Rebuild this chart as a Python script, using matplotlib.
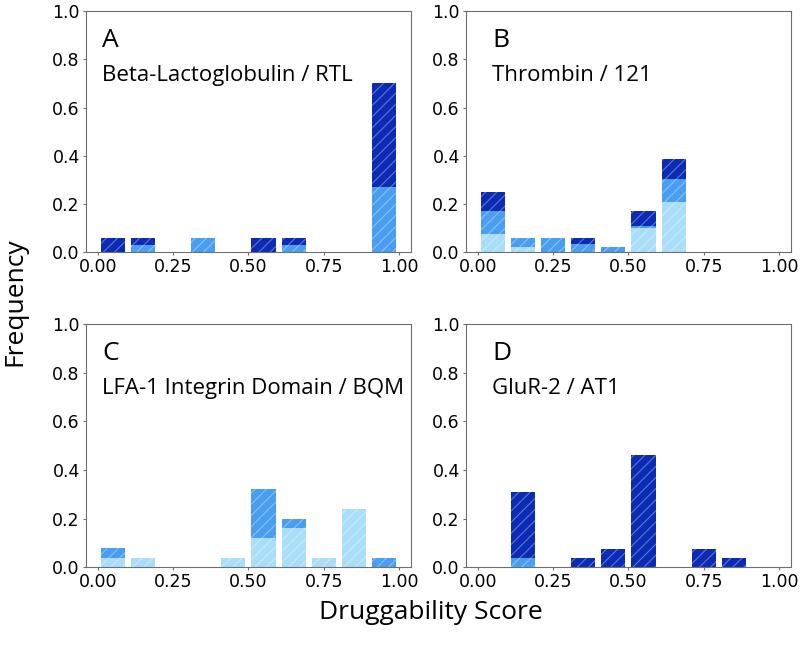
import numpy as np
import matplotlib
matplotlib.use("Agg")
import matplotlib.pyplot as plt

matplotlib.rcParams.update({'font.size': 12, 'hatch.linewidth': 0.8})

bin_edges = np.arange(0, 1.01, 0.1)

# frequencies per 0.1-wide bin, stacked bottom (light) -> top (dark)
a_light = [0, 0, 0, 0, 0, 0, 0, 0, 0, 0]
a_medium = [0, 0.03, 0, 0.06, 0, 0, 0.03, 0, 0, 0.27]
a_dark = [0.06, 0.03, 0, 0, 0, 0.06, 0.03, 0, 0, 0.43]

b_light = [0.075, 0.02, 0, 0, 0, 0.10, 0.21, 0, 0, 0]
b_medium = [0.095, 0.04, 0.06, 0.035, 0.02, 0.01, 0.095, 0, 0, 0]
b_dark = [0.08, 0, 0, 0.025, 0, 0.06, 0.08, 0, 0, 0]

c_light = [0.04, 0.04, 0, 0, 0.04, 0.12, 0.16, 0.04, 0.24, 0]
c_medium = [0.04, 0, 0, 0, 0, 0.20, 0.04, 0, 0, 0.04]
c_dark = [0, 0, 0, 0, 0, 0, 0, 0, 0, 0]

d_light = [0, 0, 0, 0, 0, 0, 0, 0, 0, 0]
d_medium = [0, 0.038, 0, 0, 0, 0, 0, 0, 0, 0]
d_dark = [0, 0.27, 0, 0.038, 0.077, 0.46, 0, 0.077, 0.038, 0]

panel_letters = ["A", "B", "C", "D"]
panel_titles = ["Beta-Lactoglobulin / RTL", "Thrombin / 121",
                "LFA-1 Integrin Domain / BQM", "GluR-2 / AT1"]
panel_data = [(a_light, a_medium, a_dark), (b_light, b_medium, b_dark),
              (c_light, c_medium, c_dark), (d_light, d_medium, d_dark)]

colors = ["#a9ddf8", "#4a9ef2", "#0b2bb5"]
label_font = "Open Sans"

fig = plt.figure(figsize=(8, 6.55), dpi=100)

# axes boxes [left, bottom, width, height] in figure fractions
boxes = [[0.1075, 0.615, 0.406, 0.368], [0.5825, 0.615, 0.406, 0.368],
         [0.1075, 0.134, 0.406, 0.371], [0.5825, 0.134, 0.406, 0.371]]
text_x = [0.05, 0.08, 0.05, 0.08]

centers = (bin_edges[:-1] + bin_edges[1:]) / 2

for i in range(4):
    ax = fig.add_axes(boxes[i])
    bottom = np.zeros(len(centers))
    for series, col in zip(panel_data[i], colors):
        h = np.array(series)
        ax.bar(centers, h, width=0.08, bottom=bottom, color=col,
               edgecolor=(1, 1, 1, 0.35), linewidth=0, hatch="///")
        bottom = bottom + h
    ax.set_ylim(0, 1.0)
    ax.set_yticks([0, 0.2, 0.4, 0.6, 0.8, 1.0])
    ax.set_xticks([0, 0.25, 0.5, 0.75, 1.0])
    for sp in ax.spines.values():
        sp.set_color("#6e6e6e")
    ax.tick_params(labelsize=12.5, color="#6e6e6e", length=2.5, pad=2)
    ax.text(text_x[i], 0.88, panel_letters[i], transform=ax.transAxes,
            fontsize=19, family=label_font, va="center")
    ax.text(text_x[i], 0.735, panel_titles[i], transform=ax.transAxes,
            fontsize=16, family=label_font, va="center", clip_on=False)

fig.text(0.019, 0.54, "Frequency", rotation=90, fontsize=19,
         family=label_font, ha="center", va="center")
fig.text(0.539, 0.065, "Druggability Score", fontsize=19,
         family=label_font, ha="center", va="center")

fig.savefig("out.png", dpi=100)
